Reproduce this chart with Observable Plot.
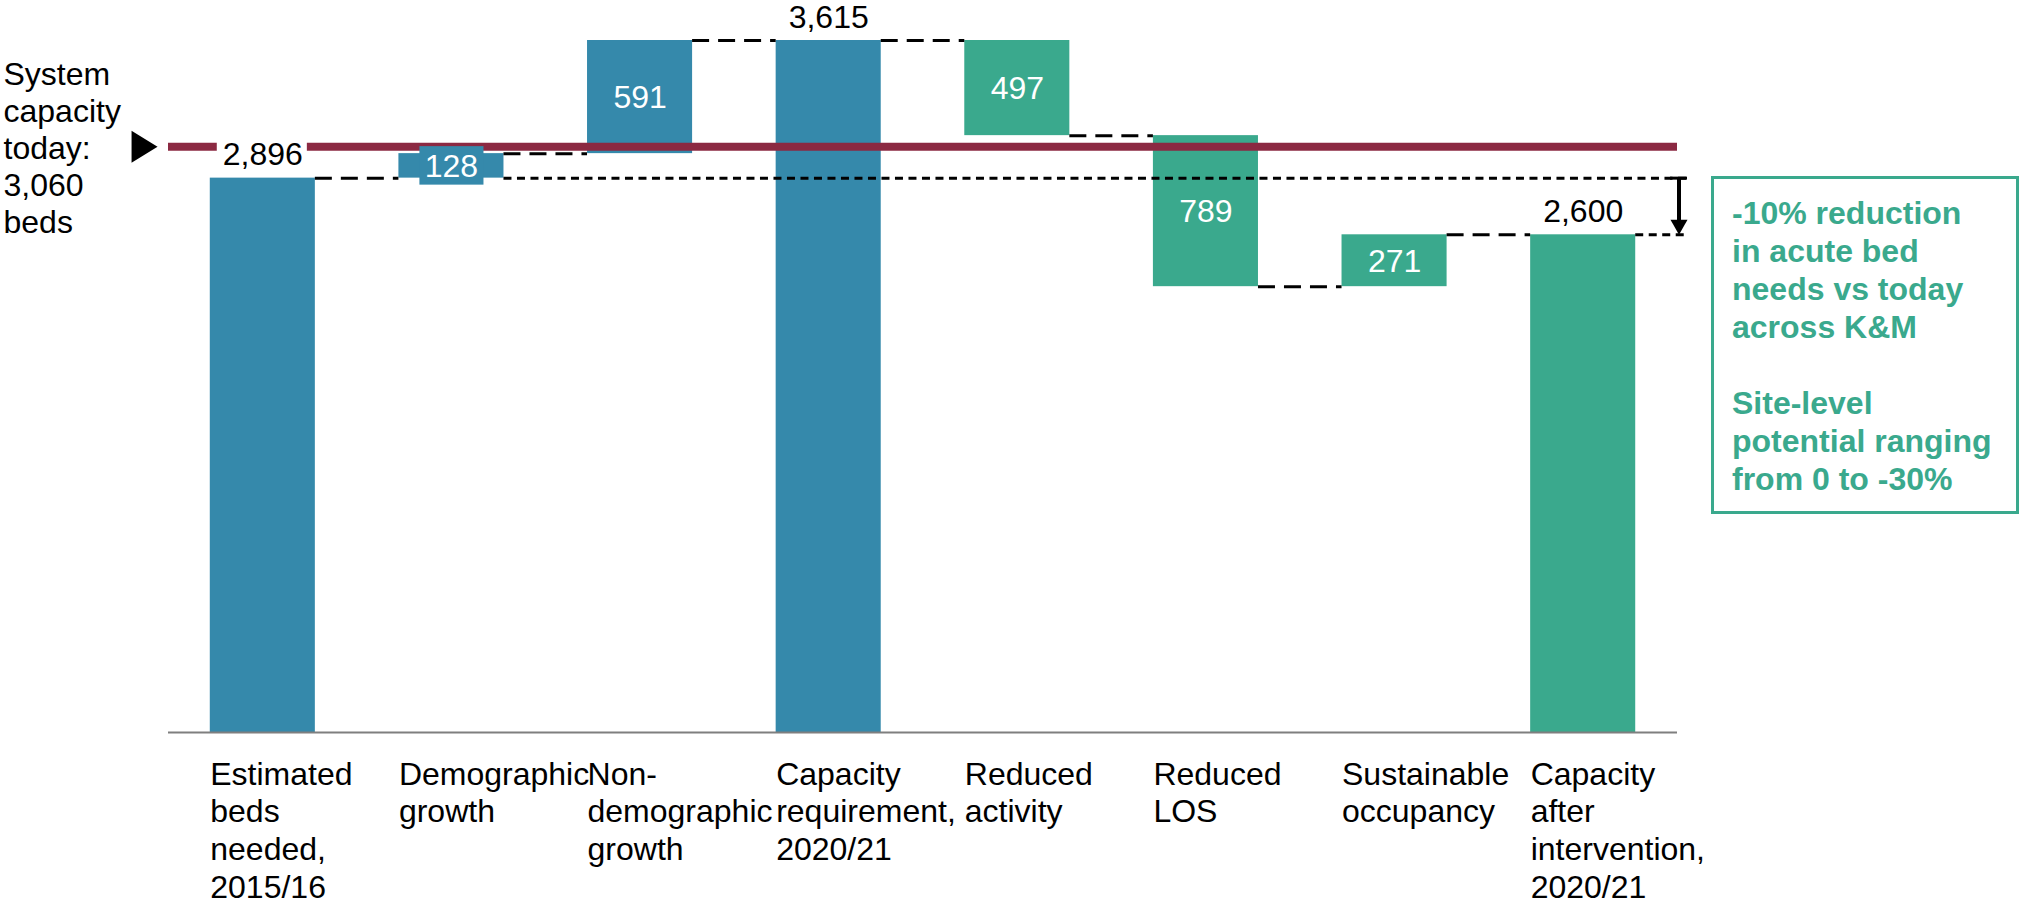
<!DOCTYPE html>
<html>
<head>
<meta charset="utf-8">
<script src="https://cdn.jsdelivr.net/npm/d3@7"></script>
<script src="https://cdn.jsdelivr.net/npm/@observablehq/plot@0.6"></script>
<style>
  html, body { margin: 0; padding: 0; background: #fff; overflow: hidden; }
  #wrap { position: relative; width: 2019px; height: 901px; }
  #note {
    position: absolute; left: 1711px; top: 176px;
    width: 284px; height: 317px;
    padding: 15px 0 0 18px;
    border: 3px solid #3aa98d;
    color: #3aa98d;
    font: bold 32px/38px "Liberation Sans", Arial, sans-serif;
    white-space: nowrap;
  }
</style>
</head>
<body>
<div id="wrap">
  <div id="chart"></div>
  <div id="note">-10% reduction<br>in acute bed<br>needs vs today<br>across K&amp;M<br><br>Site-level<br>potential ranging<br>from 0 to -30%</div>
</div>
<script>
// ---------- data ----------
const categories = [
  "Estimated\nbeds\nneeded,\n2015/16",
  "Demographic\ngrowth",
  "Non-\ndemographic\ngrowth",
  "Capacity\nrequirement,\n2020/21",
  "Reduced\nactivity",
  "Reduced\nLOS",
  "Sustainable\noccupancy",
  "Capacity\nafter\nintervention,\n2020/21"
];
const changes = [2896, 128, 591, 3615, -497, -789, 271, 2600];
const kinds = ["total", "step", "step", "total", "step", "step", "step", "total"];
const groups = ["demand", "demand", "demand", "demand", "intervention", "intervention", "intervention", "intervention"];
const capacityToday = 3060;
const capacityLabel = "System\ncapacity\ntoday:\n3,060\nbeds";

// ---------- styling ----------
const BLUE = "#3589ab", GREEN = "#3aa98d", MAROON = "#8b2942";
const FONT = '"Liberation Sans", Arial, sans-serif';
const FS = 32;
const halfW = 0.2785;          // half bar width, in category steps
const n = categories.length;
const fmt = d3.format(",");

// ---------- derived table ----------
let run = 0;
const table = categories.map((c, i) => {
  const v = changes[i];
  let y1, y2;
  if (kinds[i] === "total") { y1 = 0; y2 = v; run = v; }
  else { y1 = run; y2 = run + v; run = y2; }
  return {i, category: c, value: v, kind: kinds[i], group: groups[i], y1, y2, end: run,
          lo: Math.min(y1, y2), hi: Math.max(y1, y2), mid: (y1 + y2) / 2};
});
const connectors = table.slice(0, -1).map(d => ({x1: d.i + halfW, x2: d.i + 1 - halfW, y: d.end}));
const totals = table.filter(d => d.kind === "total");
const steps = table.filter(d => d.kind === "step");
const first = table[0], last = table[n - 1];

// custom triangle symbols
function tri(dir, ratio) {
  return {
    draw(ctx, size) {
      const side = 2 * Math.sqrt(size / Math.PI);
      const h = side * ratio;
      if (dir === "right") {
        ctx.moveTo(-h / 3, -side / 2); ctx.lineTo(2 * h / 3, 0); ctx.lineTo(-h / 3, side / 2);
      } else {
        ctx.moveTo(-side / 2, -h / 3); ctx.lineTo(side / 2, -h / 3); ctx.lineTo(0, 2 * h / 3);
      }
      ctx.closePath();
    }
  };
}

const chart = Plot.plot({
  width: 2019,
  height: 901,
  marginLeft: 168,
  marginRight: 342,
  marginTop: 40,
  marginBottom: 169,
  x: {domain: [-0.5, n - 0.5], axis: null},
  y: {domain: [0, d3.max(table, d => d.hi)], axis: null},
  color: {domain: ["demand", "intervention"], range: [BLUE, GREEN]},
  style: {fontFamily: FONT, background: "white", overflow: "visible"},
  marks: [
    // bars
    Plot.rectY(table, {x1: d => d.i - halfW, x2: d => d.i + halfW, y1: "y1", y2: "y2", fill: "group"}),
    // connectors (long dashes)
    Plot.ruleY(connectors, {x1: "x1", x2: "x2", y: "y", stroke: "black", strokeWidth: 3, strokeDasharray: "17,9"}),
    // reference lines (short dashes) for start and end totals
    Plot.ruleY([first.end], {x1: table[1].i + halfW, x2: n - 0.5, insetRight: -10, stroke: "black", strokeWidth: 3, strokeDasharray: "8,5.5"}),
    Plot.ruleY([last.end], {x1: last.i + halfW, x2: n - 0.5, insetRight: -10, stroke: "black", strokeWidth: 3, strokeDasharray: "8,5.5"}),
    // baseline
    Plot.ruleY([0], {stroke: "#7f7f7f", strokeWidth: 2}),
    // system capacity line
    Plot.ruleY([capacityToday], {stroke: MAROON, strokeWidth: 8}),
    // arrow from start total down to end total
    Plot.ruleY([first.end], {x1: n - 0.5, x2: n - 0.5, insetLeft: -7, insetRight: -10, stroke: "black", strokeWidth: 3}),
    Plot.ruleX([n - 0.5], {y1: first.end, y2: last.end, dx: 1.5, insetBottom: 8, stroke: "black", strokeWidth: 4}),
    Plot.dot([last.end], {y: d => d, x: () => n - 0.5, dx: 1.5, dy: -10, symbol: tri("down", 0.88), r: 8.5, fill: "black", stroke: "none"}),
    // white backdrop behind total labels
    Plot.rectY(totals, {
      x1: d => d.i - halfW, x2: d => d.i + halfW, y1: "y2", y2: "y2", fill: "white",
      insetLeft: 7, insetRight: 8, insetTop: -40, insetBottom: 6
    }),
    // backdrop for labels of thin bars
    Plot.rectY(steps.filter(d => Math.abs(d.value) < 200), {
      x1: d => d.i - halfW, x2: d => d.i + halfW, y1: "y1", y2: "y2", fill: "group",
      insetLeft: 21, insetRight: 20, insetTop: -7, insetBottom: -7
    }),
    // value labels
    Plot.text(totals, {
      x: "i", y: "y2", text: d => fmt(d.value), dy: -23, lineAnchor: "middle",
      fontSize: FS, fill: "black"
    }),
    Plot.text(steps, {
      x: "i", y: "mid", text: d => fmt(Math.abs(d.value)), dy: 1, lineAnchor: "middle",
      fontSize: FS, fill: "white"
    }),
    // category labels
    Plot.text(table, {
      x: d => d.i - halfW, y: () => 0, text: "category", textAnchor: "start", lineAnchor: "top",
      dy: 25.3, lineHeight: 1.178, fontSize: FS, fill: "black"
    }),
    // system capacity annotation
    Plot.text([capacityToday], {
      y: d => d, frameAnchor: "left", dx: -165, text: () => capacityLabel,
      textAnchor: "start", lineAnchor: "middle", lineHeight: 1.156, fontSize: FS, fill: "black"
    }),
    Plot.dot([capacityToday], {
      y: d => d, frameAnchor: "left", dx: -28.3, symbol: tri("right", 0.8125), r: 16, fill: "black", stroke: "none"
    })
  ]
});
document.getElementById("chart").append(chart);
</script>
</body>
</html>
